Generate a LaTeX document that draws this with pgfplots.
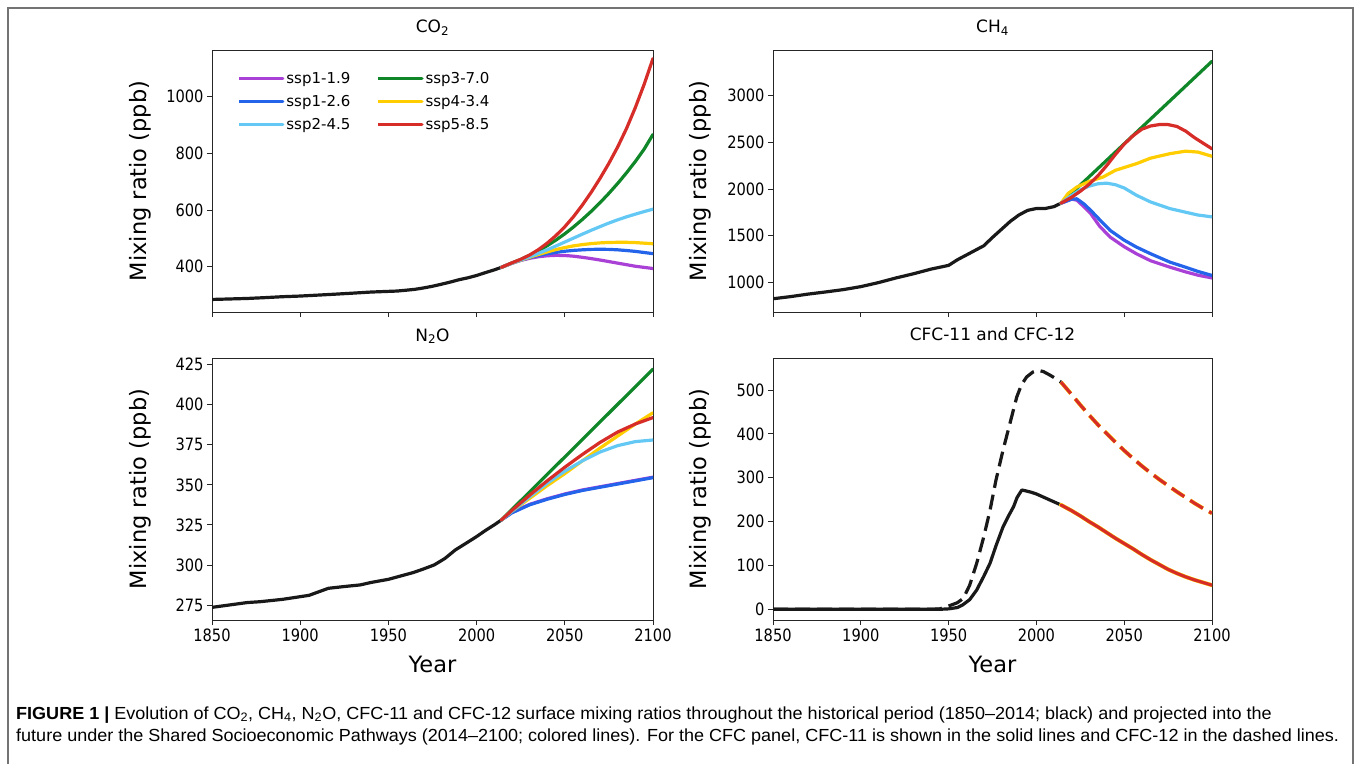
\documentclass[border=0pt]{standalone}
\usepackage{fontspec}
\setmainfont{DejaVu Sans}
\newfontfamily\tickfam{DejaVu Sans}[FakeStretch=0.86]
\newfontfamily\capfam{Liberation Sans}[FakeStretch=1.03]
\usepackage{pgfplots}
\pgfplotsset{compat=1.18}
\definecolor{cpur}{RGB}{170,65,215}
\definecolor{cblu}{RGB}{35,100,235}
\definecolor{clbl}{RGB}{100,200,245}
\definecolor{cgrn}{RGB}{15,135,40}
\definecolor{cyel}{RGB}{255,205,0}
\definecolor{cred}{RGB}{215,45,40}
\definecolor{cblk}{RGB}{25,25,25}
\newcommand\tickfont{\tickfam\fontsize{17}{17}\selectfont}
\newcommand\labfont{\fontsize{22.5}{22.5}\selectfont}
\newcommand\titfont{\fontsize{17}{17}\selectfont}
\newcommand\legfont{\fontsize{15}{15}\selectfont}
\pgfplotsset{
  panel/.style={
    scale only axis, height=262pt,
    xmin=1850, xmax=2100, xtick={1850,1900,...,2100},
    tick align=outside, major tick length=5pt,
    xtick pos=bottom, ytick pos=left,
    axis line style={line width=0.8pt, color=black!85},
    every tick/.style={line width=0.8pt, color=black!85},
    /pgf/number format/assume math mode=true,
    /pgf/number format/1000 sep={},
    ticklabel style={font=\tickfont},
    ylabel={Mixing ratio (ppb)},
    ylabel style={font=\labfont, anchor=center},
    title style={at={(axis description cs:0.5,1)}, anchor=base, yshift=11pt, font=\titfont},
    every axis plot/.append style={line width=3.2pt, line join=round, line cap=round},
    no markers,
  },
  bottompanel/.style={xlabel={Year}, xlabel style={font=\labfont, at={(axis description cs:0.5,-0.168)}, anchor=center}},
}
\begin{document}
\begin{tikzpicture}
\useasboundingbox (0pt,0pt) rectangle (1355pt,764pt);
\draw[color={rgb,255:red,115;green,115;blue,115}, line width=1.4pt] (8pt,0pt) -- (8pt,756pt) -- (1353pt,756pt) -- (1353pt,0pt);

% ---------------- CO2 ----------------
\begin{axis}[panel, at={(212pt,452pt)}, anchor=south west, width=441pt,
  ymin=240, ymax=1165, ytick={400,600,800,1000}, xticklabels={},
  ylabel style={at={(axis description cs:-0.163,0.5)}},
  title={CO\textsubscript{2}},
  legend columns=2, legend cell align=left,
  legend image code/.code={\draw[#1, line cap=butt] (0pt,0pt) -- (35pt,0pt); \path (35pt,0pt) -- (44pt,0pt);},
  legend style={at={(axis description cs:0,1)}, anchor=north west, xshift=22pt, yshift=-18pt,
    draw=none, fill=none, font=\legfont, row sep=6.5pt,
    /tikz/every even column/.append style={column sep=24pt}},
]
\addplot[cblk, forget plot] coordinates {(1850,284.3)(1860,286.0)(1870,287.8)(1880,290.7)(1890,294.0)(1900,296.3)(1910,299.6)(1920,303.0)(1930,306.6)(1940,310.4)(1950,312.8)(1955,314.0)(1960,316.9)(1965,320.0)(1970,325.0)(1975,330.9)(1980,338.0)(1985,345.5)(1990,353.9)(1995,360.6)(2000,368.9)(2005,379.0)(2010,388.7)(2014,397.5)};
\addplot[cpur] coordinates {(2014,397.5)(2020,412.0)(2025,422.0)(2030,429.5)(2035,435.0)(2040,438.5)(2045,440.0)(2050,439.5)(2055,437.0)(2060,433.0)(2065,428.5)(2070,423.5)(2075,418.0)(2080,412.5)(2085,407.0)(2090,401.5)(2095,397.5)(2100,393.5)};
\addlegendentry{ssp1-1.9}
\addplot[cgrn] coordinates {(2014,397.5)(2020,413)(2025,425.5)(2030,440)(2035,456)(2040,474)(2045,494)(2050,516)(2055,540.5)(2060,567)(2065,595.5)(2070,626)(2075,659)(2080,694)(2085,731.5)(2090,771.5)(2095,815)(2100,867)};
\addlegendentry{ssp3-7.0}
\addplot[cblu] coordinates {(2014,397.5)(2020,412.5)(2025,423)(2030,432)(2035,439.5)(2040,445.5)(2045,450.5)(2050,454.5)(2055,457.5)(2060,459.5)(2065,461)(2070,461.5)(2075,461)(2080,459.5)(2085,457)(2090,454)(2095,450)(2100,446)};
\addlegendentry{ssp1-2.6}
\addplot[cyel] coordinates {(2014,397.5)(2020,412.5)(2025,423)(2030,433)(2035,443)(2040,452)(2045,460.5)(2050,467.5)(2055,473.5)(2060,478)(2065,481.5)(2070,484)(2075,485.5)(2080,486)(2085,486)(2090,485)(2095,483)(2100,481)};
\addlegendentry{ssp4-3.4}
\addplot[clbl] coordinates {(2014,397.5)(2020,412.5)(2025,423.5)(2030,435)(2035,447)(2040,459.5)(2045,473)(2050,487)(2055,501)(2060,515)(2065,528.5)(2070,541.5)(2075,554)(2080,565.5)(2085,576)(2090,585.5)(2095,594.5)(2100,603)};
\addlegendentry{ssp2-4.5}
\addplot[cred] coordinates {(2014,397.5)(2020,413.5)(2025,426)(2030,441)(2035,460)(2040,483)(2045,510)(2050,541)(2055,577)(2060,618)(2065,663)(2070,712)(2075,765)(2080,823)(2085,888)(2090,962)(2095,1044)(2100,1135)};
\addlegendentry{ssp5-8.5}
\end{axis}

% ---------------- CH4 ----------------
\begin{axis}[panel, at={(773pt,452pt)}, anchor=south west, width=439pt,
  ymin=680, ymax=3490, ytick={1000,1500,...,3000}, xticklabels={},
  ylabel style={at={(axis description cs:-0.166,0.5)}},
  title={CH\textsubscript{4}},
]
\addplot[cblk] coordinates {(1850,822)(1860,845)(1870,872)(1880,895)(1890,920)(1900,952)(1910,995)(1920,1045)(1930,1090)(1940,1140)(1950,1180)(1955,1240)(1960,1290)(1965,1340)(1970,1390)(1975,1480)(1980,1565)(1985,1650)(1990,1720)(1995,1770)(2000,1790)(2005,1790)(2010,1810)(2014,1847)};
\addplot[cpur] coordinates {(2014,1847)(2020,1890)(2023,1880)(2027,1810)(2031,1733)(2036,1600)(2042,1483)(2050,1380)(2057,1304)(2065,1230)(2076,1161)(2085,1110)(2092,1075)(2100,1045)};
\addplot[cgrn] coordinates {(2014,1847)(2030,2130)(2050,2484)(2075,2926)(2100,3369)};
\addplot[cblu] coordinates {(2014,1847)(2020,1890)(2023,1894)(2027,1840)(2031,1769)(2036,1670)(2042,1555)(2050,1450)(2057,1376)(2065,1305)(2076,1215)(2085,1160)(2092,1115)(2100,1072)};
\addplot[cyel] coordinates {(2014,1847)(2018,1950)(2023,2020)(2030,2080)(2038,2128)(2045,2200)(2057,2271)(2065,2330)(2076,2378)(2085,2405)(2092,2395)(2100,2350)};
\addplot[clbl] coordinates {(2014,1847)(2020,1930)(2025,1990)(2030,2030)(2035,2055)(2040,2062)(2045,2045)(2050,2010)(2057,1932)(2065,1860)(2076,1789)(2085,1750)(2092,1720)(2100,1700)};
\addplot[cred] coordinates {(2014,1847)(2020,1910)(2025,1975)(2030,2050)(2035,2140)(2040,2250)(2045,2370)(2050,2480)(2055,2570)(2060,2640)(2065,2675)(2070,2690)(2075,2690)(2080,2670)(2085,2620)(2090,2550)(2095,2490)(2100,2430)};
\end{axis}

% ---------------- N2O ----------------
\begin{axis}[panel, bottompanel, at={(212pt,144pt)}, anchor=south west, width=441pt,
  ymin=265.6, ymax=429.2, ytick={275,300,...,425},
  ylabel style={at={(axis description cs:-0.163,0.5)}},
  title={N\textsubscript{2}O},
]
\addplot[cblk] coordinates {(1850,273.5)(1860,275)(1870,276.5)(1877,277)(1890,278.5)(1899,280)(1905,281)(1910,283)(1916,285.4)(1925,286.5)(1934,287.5)(1940,289)(1950,291)(1960,294)(1964,295.2)(1970,297.5)(1976,300)(1982,304)(1988,309.4)(1994,313.5)(2000,317.7)(2005,321.5)(2010,325)(2014,328)};
\addplot[cpur] coordinates {(2014,328)(2020,332.8)(2030,337.8)(2040,341.3)(2050,344.3)(2060,346.8)(2070,348.8)(2080,350.8)(2090,352.8)(2100,354.8)};
\addplot[cgrn] coordinates {(2014,328)(2030,345.5)(2050,367.4)(2075,394.8)(2100,422.3)};
\addplot[cblu] coordinates {(2014,328)(2020,332.5)(2030,337.5)(2040,341)(2050,344)(2060,346.5)(2070,348.5)(2080,350.5)(2090,352.5)(2100,354.5)};
\addplot[cyel] coordinates {(2014,328)(2020,333.5)(2030,341.5)(2040,349.5)(2050,357)(2060,365)(2070,373)(2080,380.5)(2090,388)(2100,395)};
\addplot[clbl] coordinates {(2014,328)(2020,333.5)(2030,342.5)(2040,351)(2050,358.5)(2060,365)(2070,370.5)(2080,374.5)(2090,377)(2100,378)};
\addplot[cred] coordinates {(2014,328)(2020,334)(2030,343.5)(2040,352.5)(2050,361)(2060,369)(2070,376.5)(2080,383)(2090,388)(2100,392)};
\end{axis}

% ---------------- CFC ----------------
\begin{axis}[panel, bottompanel, at={(773pt,144pt)}, anchor=south west, width=439pt,
  ymin=-24.4, ymax=573, ytick={0,100,...,500},
  ylabel style={at={(axis description cs:-0.166,0.5)}},
  title={CFC-11 and CFC-12},
]
\addplot[cblk] coordinates {(1850,0)(1945,0)(1950,1)(1955,4)(1958,10)(1962,22)(1966,44)(1970,75)(1973.6,105)(1977,145)(1981,188)(1984,212)(1987,234)(1989,255)(1991.7,272)(1994,270)(1997,267)(2000,263)(2005,254)(2010,245)(2014,238)};
\addplot[cblk, dash pattern=on 15pt off 7pt, line cap=butt] coordinates {(1850,0)(1940,0)(1945,1)(1949,6)(1955,15)(1958.4,25)(1962,55)(1966,105)(1970,165)(1973.6,226)(1977,295)(1981,363)(1985,425)(1988.8,484)(1991.5,512)(1994.5,530)(1998,541)(2001,545)(2004,542)(2007.7,534)(2011,526)(2014,518)};
\addplot[cyel, line width=4pt] coordinates {(2014,238)(2020,225)(2025,213)(2030,200)(2035,188)(2040,175)(2045,162)(2050,150)(2055,138)(2060,125)(2065,113)(2070,102)(2075,91)(2080,82)(2085,74)(2090,67)(2095,61)(2100,55)};
\addplot[cred] coordinates {(2014,238)(2020,225)(2025,213)(2030,200)(2035,188)(2040,175)(2045,162)(2050,150)(2055,138)(2060,125)(2065,113)(2070,102)(2075,91)(2080,82)(2085,74)(2090,67)(2095,61)(2100,55)};
\addplot[cyel, line width=4pt, dash pattern=on 15pt off 7pt, line cap=butt] coordinates {(2014,518)(2020,490)(2025,466)(2030,443)(2035,421)(2040,401)(2045,381)(2050,362)(2055,344)(2060,327)(2065,311)(2070,296)(2075,282)(2080,268)(2085,255)(2090,242)(2095,230)(2100,219)};
\addplot[cred, dash pattern=on 15pt off 7pt, line cap=butt] coordinates {(2014,518)(2020,490)(2025,466)(2030,443)(2035,421)(2040,401)(2045,381)(2050,362)(2055,344)(2060,327)(2065,311)(2070,296)(2075,282)(2080,268)(2085,255)(2090,242)(2095,230)(2100,219)};
\end{axis}

% ---------------- caption ----------------
\node[anchor=base west, inner sep=0pt, font=\capfam\fontsize{17.5}{17.5}\selectfont] at (16pt,45pt)
  {\textbf{FIGURE 1} {\bfseries|} Evolution of CO\textsubscript{2}, CH\textsubscript{4}, N\textsubscript{2}O, CFC-11 and CFC-12 surface mixing ratios throughout the historical period (1850–2014; black) and projected into the};
\node[anchor=base west, inner sep=0pt, font=\capfam\fontsize{17.5}{17.5}\selectfont] at (16pt,23pt)
  {future under the Shared Socioeconomic Pathways (2014–2100; colored lines). For the CFC panel, CFC-11 is shown in the solid lines and CFC-12 in the dashed lines.};
\end{tikzpicture}
\end{document}
